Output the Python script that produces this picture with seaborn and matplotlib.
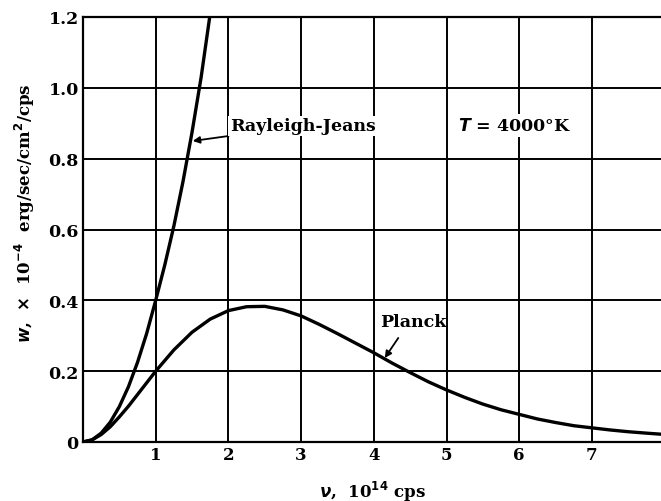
import numpy as np
import pandas as pd
import matplotlib
matplotlib.use("Agg")
import matplotlib.pyplot as plt
import seaborn as sns

# ---- data ----
planck_nu = [0, 0.125, 0.25, 0.375, 0.5, 0.625, 0.75, 0.875, 1.0, 1.25, 1.5, 1.75,
             2.0, 2.25, 2.5, 2.75, 3.0, 3.25, 3.5, 3.75, 4.0, 4.25, 4.5, 4.75,
             5.0, 5.25, 5.5, 5.75, 6.0, 6.25, 6.5, 6.75, 7.0, 7.25, 7.5, 7.75, 7.95]
planck_w = [0, 0.006, 0.021, 0.043, 0.071, 0.101, 0.134, 0.167, 0.200, 0.260, 0.310, 0.347,
            0.371, 0.382, 0.383, 0.373, 0.356, 0.332, 0.306, 0.279, 0.252, 0.223, 0.196, 0.170,
            0.147, 0.126, 0.107, 0.091, 0.078, 0.065, 0.055, 0.046, 0.040, 0.034, 0.029, 0.025, 0.022]

rj_nu = [0, 0.125, 0.25, 0.375, 0.5, 0.625, 0.75, 0.875, 1.0, 1.125, 1.25, 1.375, 1.5, 1.625, 1.76]
rj_w = [0, 0.006, 0.025, 0.056, 0.100, 0.156, 0.225, 0.306, 0.400, 0.500, 0.610, 0.735, 0.875, 1.030, 1.225]

x_ticks = [1, 2, 3, 4, 5, 6, 7]
y_ticks = [0, 0.2, 0.4, 0.6, 0.8, 1.0, 1.2]
y_tick_labels = ["0", "0.2", "0.4", "0.6", "0.8", "1.0", "1.2"]

sns.set_theme(style="white")
plt.rcParams["font.family"] = ["DejaVu Serif"]
plt.rcParams["font.weight"] = "bold"
plt.rcParams["text.color"] = "black"
plt.rcParams["axes.labelcolor"] = "black"
plt.rcParams["xtick.color"] = "black"
plt.rcParams["ytick.color"] = "black"

fig = plt.figure(figsize=(6.61, 5.02), dpi=100)
ax = fig.add_axes([83 / 661, 1 - 443 / 502, 1 - 83 / 661, (443 - 18) / 502])

df_p = pd.DataFrame({"nu": planck_nu, "w": planck_w})
df_r = pd.DataFrame({"nu": rj_nu, "w": rj_w})
sns.lineplot(data=df_r, x="nu", y="w", ax=ax, color="black", lw=2.4, sort=False,
             solid_capstyle="round", zorder=4)
sns.lineplot(data=df_p, x="nu", y="w", ax=ax, color="black", lw=2.4, sort=False,
             solid_capstyle="round", zorder=4)

ax.set_xlim(0, 7.95)
ax.set_ylim(0, 1.2)
ax.set_xticks(x_ticks)
ax.set_xticklabels([str(t) for t in x_ticks], fontsize=12, fontweight="bold", color="black")
ax.set_yticks(y_ticks)
ax.set_yticklabels(y_tick_labels, fontsize=12.5, fontweight="bold", color="black")
ax.tick_params(length=0, pad=3)
ax.grid(True, color="black", lw=1.4)
ax.set_axisbelow(True)
for side in ["left", "bottom", "top"]:
    ax.spines[side].set_visible(True)
    ax.spines[side].set_color("black")
    ax.spines[side].set_linewidth(1.6)
ax.spines["right"].set_visible(False)

ax.set_xlabel(r"$\boldsymbol{\nu}$,  10$^{\mathbf{14}}$ cps", fontsize=12, fontweight="bold",
              labelpad=11, color="black")
ax.set_ylabel(r"$\boldsymbol{w}$,  $\mathbf{\times}$  10$^{\mathbf{-4}}$  erg/sec/cm$^{\mathbf{2}}$/cps",
              fontsize=12, fontweight="bold", color="black")
ax.yaxis.set_label_coords(-0.08, 0.54)

ax.annotate("Rayleigh-Jeans", xy=(1.51, 0.85), xytext=(2.02, 0.893),
            fontsize=12.5, fontweight="bold", va="center", ha="left", color="black",
            bbox=dict(facecolor="white", edgecolor="none", pad=1),
            arrowprops=dict(arrowstyle="-|>", color="black", lw=1.3,
                            shrinkA=2, shrinkB=0, mutation_scale=10))
ax.text(5.94, 0.893, r"$\boldsymbol{T}$ = 4000°K", fontsize=12.5, fontweight="bold",
        va="center", ha="center", color="black",
        bbox=dict(facecolor="white", edgecolor="none", pad=2))
ax.annotate("Planck", xy=(4.15, 0.237), xytext=(4.09, 0.34),
            fontsize=12.5, fontweight="bold", va="center", ha="left", color="black",
            arrowprops=dict(arrowstyle="-|>", color="black", lw=1.3,
                            shrinkA=4, shrinkB=0, mutation_scale=10,
                            relpos=(0.35, 0.0)))

fig.savefig("out.png", dpi=100)
